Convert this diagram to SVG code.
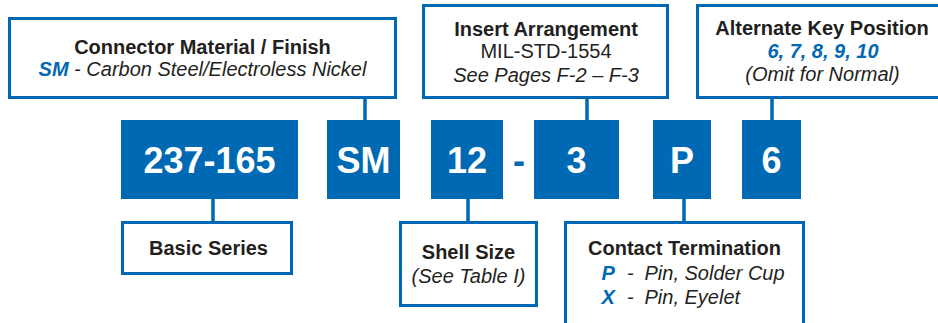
<svg xmlns="http://www.w3.org/2000/svg" width="938" height="323" viewBox="0 0 938 323">
<style>
.box{fill:#fff;stroke:#0069B3;stroke-width:3}
.fill{fill:#0069B3}
.conn line{stroke:#0069B3;stroke-width:3.5}
text{font-family:"Liberation Sans",Arial,Helvetica,sans-serif;fill:#231F20;font-size:20px}
.b{font-weight:bold}
.i{font-style:italic}
.blue{fill:#0069B3}
.big{font-size:36px;font-weight:bold;fill:#fff;text-anchor:middle}
.m{text-anchor:middle}
</style>
<rect width="938" height="323" fill="#fff"/>
<g class="conn">
<line x1="365" y1="98" x2="365" y2="121"/>
<line x1="587" y1="98" x2="587" y2="121"/>
<line x1="772" y1="98" x2="772" y2="121"/>
<line x1="213" y1="198" x2="213" y2="222"/>
<line x1="468" y1="198" x2="468" y2="222"/>
<line x1="684" y1="198" x2="684" y2="222"/>
</g>
<g id="material">
<rect class="box" x="9.5" y="18.5" width="386" height="79"/>
<text class="b m" x="202.5" y="53.5">Connector Material / Finish</text>
<text class="i m" x="202.5" y="76"><tspan class="b blue">SM</tspan> - Carbon Steel/Electroless Nickel</text>
</g>
<g id="insert">
<rect class="box" x="423.5" y="5.5" width="244" height="92"/>
<text class="b m" x="546" y="36">Insert Arrangement</text>
<text class="m" x="546" y="58">MIL-STD-1554</text>
<text class="i m" x="546" y="82">See Pages F-2 – F-3</text>
</g>
<g id="altkey">
<rect class="box" x="697.5" y="5.5" width="252" height="92"/>
<text class="b m" x="822" y="35">Alternate Key Position</text>
<text class="b i blue m" x="823" y="58">6, 7, 8, 9, 10</text>
<text class="i m" x="822.5" y="81">(Omit for Normal)</text>
</g>
<g id="series-code">
<rect class="fill" x="121" y="120" width="177" height="79"/>
<text class="big" x="209.5" y="172.5">237-165</text>
</g>
<g id="material-code">
<rect class="fill" x="327" y="120" width="73" height="79"/>
<text class="big" x="363.5" y="172.5">SM</text>
</g>
<g id="shell-code">
<rect class="fill" x="431" y="120" width="72" height="79"/>
<text class="big" x="467" y="172.5">12</text>
</g>
<g id="dash">
<text class="big" x="519" y="172.5" style="fill:#0069B3">-</text>
</g>
<g id="insert-code">
<rect class="fill" x="534" y="120" width="85" height="79"/>
<text class="big" x="576.5" y="172.5">3</text>
</g>
<g id="contact-code">
<rect class="fill" x="653" y="120" width="58" height="79"/>
<text class="big" x="682" y="172.5">P</text>
</g>
<g id="key-code">
<rect class="fill" x="742" y="120" width="59" height="79"/>
<text class="big" x="771.5" y="172.5">6</text>
</g>
<g id="basic">
<rect class="box" x="122.5" y="222.5" width="169" height="51"/>
<text class="b m" x="208.5" y="255">Basic Series</text>
</g>
<g id="shell">
<rect class="box" x="400.5" y="222.5" width="136" height="83"/>
<text class="b m" x="468.5" y="259">Shell Size</text>
<text class="i m" x="468.5" y="282.5">(See Table I)</text>
</g>
<g id="contact">
<rect class="box" x="565.5" y="222.5" width="238" height="102"/>
<text class="b m" x="684.5" y="255">Contact Termination</text>
<text class="b i blue" x="601.5" y="280">P</text>
<text class="i" x="627" y="280">-</text>
<text class="i" x="644.5" y="280">Pin, Solder Cup</text>
<text class="b i blue" x="601.5" y="303.5">X</text>
<text class="i" x="627" y="303.5">-</text>
<text class="i" x="644.5" y="303.5">Pin, Eyelet</text>
</g>
</svg>
